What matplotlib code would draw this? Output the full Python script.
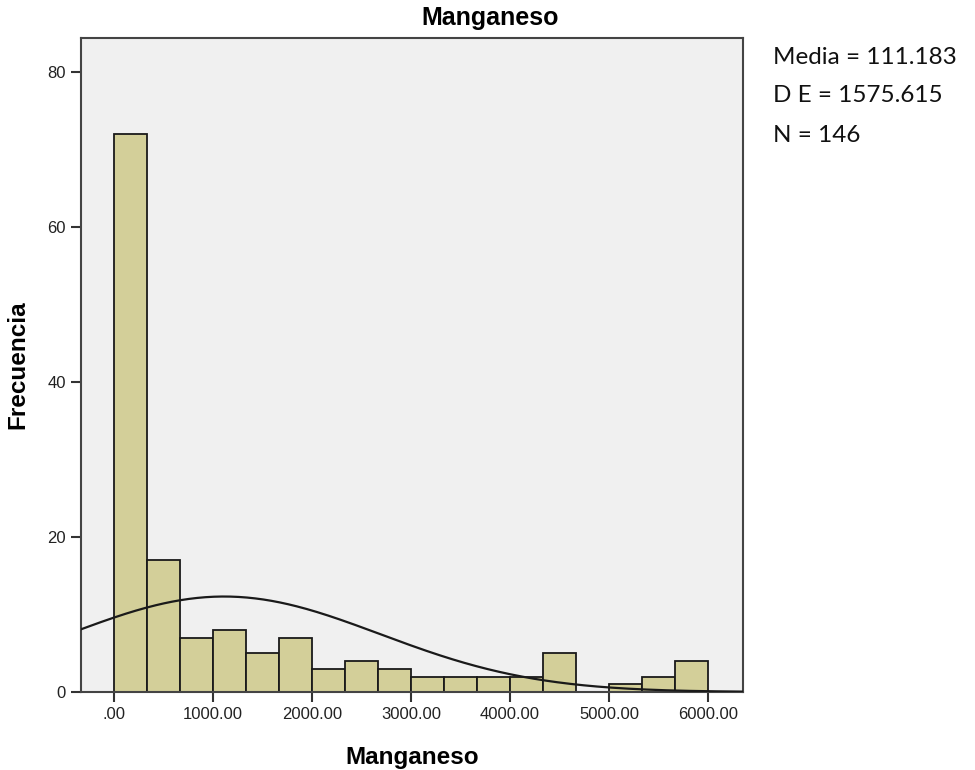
import numpy as np
import matplotlib.pyplot as plt

# Histogram counts per bin (18 bins of equal width between 0 and 6000)
bin_edges = np.linspace(0, 6000, 19)
counts = [72, 17, 7, 8, 5, 7, 3, 4, 3, 2, 2, 2, 2, 5, 0, 1, 2, 4]

# Summary statistics used for the normal curve
mean_val = 1111.83
sd_val = 1575.615
n_obs = 146
stats_lines = ["Media = 111.183", "D E = 1575.615", "N = 146"]

x_ticks = [0, 1000, 2000, 3000, 4000, 5000, 6000]
x_tick_labels = [".00", "1000.00", "2000.00", "3000.00", "4000.00", "5000.00", "6000.00"]
y_ticks = [0, 20, 40, 60, 80]

plt.rcParams['font.family'] = ['Liberation Sans', 'DejaVu Sans']

fig = plt.figure(figsize=(9.75, 7.7), dpi=100)
ax = fig.add_axes([0.0831, 0.1013, 0.6789, 0.8493])
ax.set_facecolor("#f0f0f0")

widths = np.diff(bin_edges)
ax.bar(bin_edges[:-1], counts, width=widths, align="edge",
       color="#d3cf99", edgecolor="#1a1a1a", linewidth=1.3, zorder=2)

# Normal curve scaled to the histogram counts
xmin, xmax = -333, 6353
xs = np.linspace(xmin, xmax, 400)
bw = widths[0]
ys = n_obs * bw / (sd_val * np.sqrt(2 * np.pi)) * np.exp(-0.5 * ((xs - mean_val) / sd_val) ** 2)
ax.plot(xs, ys, color="#1a1a1a", linewidth=1.6, zorder=3)

ax.set_xlim(xmin, xmax)
ax.set_ylim(0, 84.4)
ax.set_xticks(x_ticks)
ax.set_xticklabels(x_tick_labels)
ax.set_yticks(y_ticks)
ax.tick_params(direction="out", length=7, width=1.5, color="#333333",
               labelsize=12, labelcolor="#222222", pad=4)

for side in ["left", "right", "top", "bottom"]:
    ax.spines[side].set_color("#444444")
    ax.spines[side].set_linewidth(1.5)

ax.set_xlabel("Manganeso", fontsize=17.5, fontweight="bold", labelpad=17)
ax.set_ylabel("Frecuencia", fontsize=17.5, fontweight="bold", labelpad=13)
fig.text(0.5026, 0.977, "Manganeso", ha="center", va="center",
         fontsize=18, fontweight="bold")

for i, line in enumerate(stats_lines):
    fig.text(0.793, 1 - (57 + 39 * i) / 770, line, ha="left", va="center",
             fontsize=17.5, family=["Lato", "DejaVu Sans"], color="#111111")

fig.savefig("out.png", dpi=100)
